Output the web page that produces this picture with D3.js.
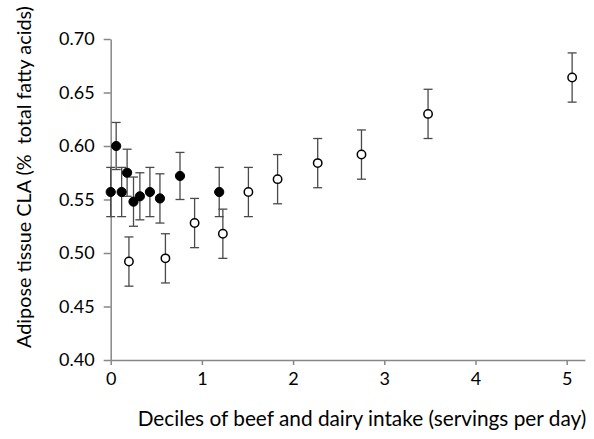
<!DOCTYPE html>
<html>
<head>
<meta charset="utf-8">
<script src="https://cdn.jsdelivr.net/npm/d3@7"></script>
<style>
  html, body { margin: 0; padding: 0; background: #fff; }
  svg { display: block; font-family: Lato, "Open Sans", sans-serif; }
</style>
</head>
<body>
<svg id="chart" width="594" height="439"></svg>
<script>
// Filled series
const filledX = [0, 0.06, 0.12, 0.18, 0.25, 0.32, 0.43, 0.54, 0.76, 1.19];
const filledY = [0.557, 0.600, 0.557, 0.575, 0.548, 0.553, 0.557, 0.551, 0.572, 0.557];
const filledErr = [0.023, 0.022, 0.023, 0.022, 0.023, 0.022, 0.023, 0.023, 0.022, 0.023];
// Open series
const openX = [0.20, 0.60, 0.92, 1.23, 1.51, 1.83, 2.27, 2.75, 3.48, 5.06];
const openY = [0.492, 0.495, 0.528, 0.518, 0.557, 0.569, 0.584, 0.592, 0.630, 0.664];
const openErr = [0.023, 0.023, 0.023, 0.023, 0.023, 0.023, 0.023, 0.023, 0.023, 0.023];
// Ticks
const xTicks = [0, 1, 2, 3, 4, 5];
const yTicks = [0.40, 0.45, 0.50, 0.55, 0.60, 0.65, 0.70];
const xTitle = "Deciles of beef and dairy intake (servings per day)";
const yTitle = "Adipose tissue CLA (%  total fatty acids)";

const svg = d3.select("#chart");
const x = d3.scaleLinear().domain([0, 5.2]).range([110.7, 584.9]);
const y = d3.scaleLinear().domain([0.40, 0.70]).range([360, 39]);
const axisColor = "#878787";

// Y axis
const gy = svg.append("g").attr("transform", `translate(${x(0)},0)`)
  .call(d3.axisLeft(y).tickValues(yTicks).tickFormat(d3.format(".2f")).tickSize(7).tickSizeOuter(0).tickPadding(9));
// X axis
const gx = svg.append("g").attr("transform", `translate(0,${y(0.40)})`)
  .call(d3.axisBottom(x).tickValues(xTicks).tickFormat(d3.format("d")).tickSize(5).tickSizeOuter(0).tickPadding(7));

[gy, gx].forEach(g => {
  g.select(".domain").attr("stroke", axisColor).attr("stroke-width", 1.5);
  g.selectAll(".tick line").attr("stroke", axisColor).attr("stroke-width", 1.5);
  g.selectAll(".tick text").attr("fill", "#000").style("font-size", "18px").style("font-family", "Lato, 'Open Sans', sans-serif");
});

// Error bars
function drawSeries(xs, ys, es) {
  const data = xs.map((d, i) => ({ x: d, y: ys[i], e: es[i] }));
  const g = svg.append("g");
  const eb = g.selectAll("g.eb").data(data).join("g").attr("class", "eb")
    .attr("stroke", "#4a4a4a").attr("stroke-width", 1.3);
  eb.append("line")
    .attr("x1", d => x(d.x)).attr("x2", d => x(d.x))
    .attr("y1", d => y(d.y + d.e)).attr("y2", d => y(d.y - d.e));
  eb.append("line")
    .attr("x1", d => x(d.x) - 4.5).attr("x2", d => x(d.x) + 4.5)
    .attr("y1", d => y(d.y + d.e)).attr("y2", d => y(d.y + d.e));
  eb.append("line")
    .attr("x1", d => x(d.x) - 4.5).attr("x2", d => x(d.x) + 4.5)
    .attr("y1", d => y(d.y - d.e)).attr("y2", d => y(d.y - d.e));
  return { g, data };
}
const fs = drawSeries(filledX, filledY, filledErr);
const os = drawSeries(openX, openY, openErr);

fs.g.selectAll("circle").data(fs.data).join("circle")
  .attr("cx", d => x(d.x)).attr("cy", d => y(d.y)).attr("r", 4.6)
  .attr("fill", "#000").attr("stroke", "#000").attr("stroke-width", 1);
os.g.selectAll("circle").data(os.data).join("circle")
  .attr("cx", d => x(d.x)).attr("cy", d => y(d.y)).attr("r", 4.2)
  .attr("fill", "#fff").attr("stroke", "#000").attr("stroke-width", 1.5);

// Titles
svg.append("text").attr("x", 362).attr("y", 426).attr("text-anchor", "middle")
  .style("font-size", "20.8px").attr("fill", "#000").text(xTitle);
svg.append("text").attr("transform", "translate(31,177) rotate(-90)").attr("text-anchor", "middle")
  .style("font-size", "19.8px").attr("fill", "#000").attr("xml:space", "preserve").text(yTitle);
</script>
</body>
</html>
